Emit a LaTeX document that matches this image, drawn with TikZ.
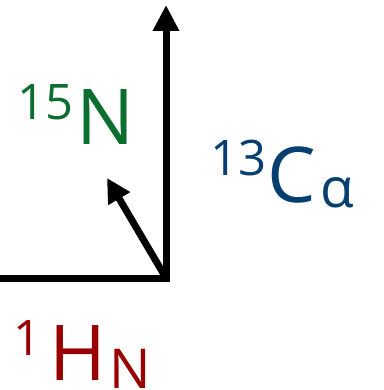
\documentclass[tikz,border=0pt]{standalone}
\usepackage{fontspec}
\setmainfont{Open Sans}
\usetikzlibrary{arrows.meta}
\definecolor{ngreen}{HTML}{0B6E2E}
\definecolor{cblue}{HTML}{063F70}
\definecolor{hred}{HTML}{990000}
\tikzset{
  axis/.style={line width=7pt, line join=miter},
  bigtip/.style={-{Triangle[length=26pt,width=25pt]}},
  smalltip/.style={-{Triangle[length=24pt,width=24pt]}},
  lbl/.style={inner sep=0pt, outer sep=0pt},
  big/.style={font=\fontsize{77}{77}\selectfont},
  supf/.style={font=\fontsize{49}{49}\selectfont},
  subf/.style={font=\fontsize{55}{55}\selectfont},
}
\begin{document}
\begin{tikzpicture}[x=1pt,y=-1pt]
\useasboundingbox (0,0) rectangle (383,390);
\coordinate (L) at (0,278);
\coordinate (O) at (166,278);
\coordinate (T) at (166,5);
\coordinate (S) at (107,178);
\draw[axis,bigtip] (L) -- (O) -- (T);
\draw[axis,smalltip] (O) -- (S);
% 15N
\node[lbl,supf,text=ngreen,anchor=base east] (n15s) at (74,120) {15};
\node[lbl,big,text=ngreen,anchor=base west] (n15) at (76,145) {N};
% 13C alpha
\node[lbl,supf,text=cblue,anchor=base east] (c13s) at (267,175) {13};
\node[lbl,big,text=cblue,anchor=base west] (c13) at (267,202) {C};
\node[lbl,subf,text=cblue,anchor=base west] (c13a) at ([xshift=5pt,yshift=-5pt]c13.base east) {α};
% 1H N
\node[lbl,supf,text=hred,anchor=base east] (h1s) at (42,355) {1};
\node[lbl,big,text=hred,anchor=base west] (h1) at (49,380) {H};
\node[lbl,subf,text=hred,anchor=base west] (h1n) at ([xshift=4pt,yshift=-8pt]h1.base east) {N};
\end{tikzpicture}
\end{document}
